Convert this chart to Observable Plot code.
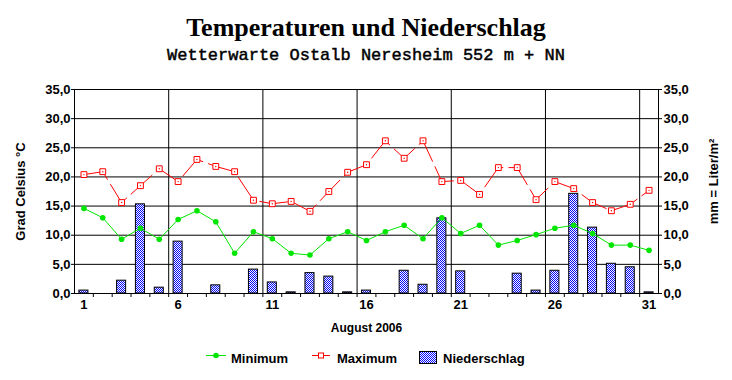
<!DOCTYPE html>
<html>
<head>
<meta charset="utf-8">
<script src="https://cdn.jsdelivr.net/npm/d3@7"></script>
<script src="https://cdn.jsdelivr.net/npm/@observablehq/plot@0.6"></script>
<style>
  body { margin: 0; background: #fff; }
  #wrap { position: relative; width: 732px; height: 380px; background: #fff; overflow: hidden; }
  #title { position: absolute; left: 0; top: 15px; width: 732px; text-align: center;
           font: bold 26px/26px "Liberation Serif", "Times New Roman", serif; color: #000; }
  #sub { position: absolute; left: 0; top: 47px; width: 732px; text-align: center;
         font: normal 17px/17px "Liberation Mono", "Courier New", monospace; color: #000;
         -webkit-text-stroke: 0.45px #000; }
  #chart { position: absolute; left: 0; top: 70px; }
  #legend { position: absolute; left: 0; top: 340px; }
</style>
</head>
<body>
<div id="wrap">
  <div id="title">Temperaturen und Niederschlag</div>
  <div id="sub">Wetterwarte Ostalb Neresheim 552 m + NN</div>
  <div id="chart"></div>
  <div id="legend"></div>
</div>
<script>
// ---- data ----
const days = [1,2,3,4,5,6,7,8,9,10,11,12,13,14,15,16,17,18,19,20,21,22,23,24,25,26,27,28,29,30,31];
const minT = [14.6,13.0,9.3,11.2,9.3,12.7,14.2,12.3,6.9,10.6,9.4,6.9,6.6,9.4,10.6,9.1,10.6,11.7,9.4,13.0,10.3,11.7,8.3,9.1,10.1,11.2,11.7,10.3,8.3,8.3,7.4];
const maxT = [20.4,20.9,15.6,18.5,21.4,19.2,23.0,21.8,20.9,16.0,15.4,15.8,14.1,17.5,20.8,22.1,26.2,23.2,26.2,19.2,19.4,17.0,21.6,21.6,16.1,19.2,18.0,15.6,14.2,15.3,17.7];
const rain = [0.5,0,2.2,15.3,1.0,8.9,0,1.4,0,4.1,1.9,0.2,3.5,2.9,0.2,0.5,0,3.9,1.5,12.9,3.8,0,0,3.4,0.5,3.9,17.1,11.3,5.1,4.5,0.2];
const yTicks = [0,5,10,15,20,25,30,35];
const xLabelDays = [1,6,11,16,21,26,31];
const gridDays = [6,11,16,21,26,31];
const boundaryDays = [2,3,4,5,6,7,8,9,10,11,12,13,14,15,16,17,18,19,20,21,22,23,24,25,26,27,28,29,30,31];
const leftTitle = ["Grad Celsius °C"];
const rightTitle = ["mm = Liter/m²"];
const xTitle = ["August 2006"];
const seriesNames = ["Minimum", "Maximum", "Niederschlag"];

const GREEN = "#00e600";
const RED = "#ff0000";

const data = days.map((d, i) => ({day: d, min: minT[i], max: maxT[i], rain: rain[i]}));

const W = 732, H = 270, mL = 74, mR = 74, mT = 19, mB = 47;
const half = (W - mL - mR) / days.length / 2;
const fmt = v => v.toFixed(1).replace(".", ",");

const chart = Plot.plot({
  width: W, height: H,
  marginLeft: mL, marginRight: mR, marginTop: mT, marginBottom: mB,
  style: {fontFamily: "'Liberation Sans', Arial, sans-serif", fontSize: "13px", fontWeight: "bold", color: "black", background: "white", overflow: "visible"},
  x: {type: "band", domain: days, paddingInner: 0.52, paddingOuter: 0.26, round: false},
  y: {domain: [0, 35]},
  marks: [
    Plot.ruleY(yTicks, {y: d => d, stroke: "black"}),
    Plot.ruleX(gridDays, {x: d => d, dx: -half, stroke: "black"}),
    Plot.ruleX(boundaryDays, {x: d => d, dx: -half, y1: 0, y2: 0, insetBottom: -4, stroke: "black"}),
    Plot.barY(data.filter(d => d.rain > 0), {x: "day", y: "rain", fill: "url(#dots)", stroke: "black", strokeWidth: 1}),
    Plot.line(data, {x: "day", y: "min", stroke: GREEN, strokeWidth: 1}),
    Plot.dot(data, {x: "day", y: "min", r: 2.8, fill: GREEN}),
    Plot.line(data, {x: "day", y: "max", stroke: RED, strokeWidth: 1, strokeDasharray: "28,6"}),
    Plot.dot(data, {x: "day", y: "max", symbol: "square", r: 3.3, stroke: RED, fill: "white", strokeWidth: 1}),
    Plot.dot(data, {x: "day", y: "max", r: 0.7, fill: RED}),
    Plot.frame({stroke: "black"}),
    Plot.axisY({anchor: "left", ticks: yTicks, tickSize: 3, tickPadding: 1, tickFormat: fmt, label: null}),
    Plot.axisY({anchor: "right", ticks: yTicks, tickSize: 3, tickPadding: 2, tickFormat: fmt, label: null}),
    Plot.axisX({anchor: "bottom", ticks: xLabelDays, tickSize: 0, tickPadding: 6, label: null}),
    Plot.text(leftTitle, {text: d => d, frameAnchor: "left", textAnchor: "middle", dx: -54, rotate: -90, fontSize: 13}),
    Plot.text(rightTitle, {text: d => d, frameAnchor: "right", textAnchor: "middle", dx: 55, dy: -10, rotate: -90, fontSize: 13}),
    Plot.text(xTitle, {text: d => d, frameAnchor: "bottom", dy: 38, fontSize: 12})
  ]
});

// dotted pattern for precipitation bars
const svgNS = "http://www.w3.org/2000/svg";
const defs = document.createElementNS(svgNS, "defs");
defs.innerHTML = '<pattern id="dots" width="2" height="2" patternUnits="userSpaceOnUse">' +
  '<rect width="2" height="2" fill="#ffffff"/>' +
  '<rect x="0" y="0" width="1" height="1" fill="#0000ff"/>' +
  '<rect x="1" y="1" width="1" height="1" fill="#0000ff"/></pattern>';
chart.insertBefore(defs, chart.firstChild);
document.getElementById("chart").appendChild(chart);

// legend
const lg = `<svg width="732" height="40" xmlns="${svgNS}" style="font-family:'Liberation Sans',Arial,sans-serif;font-size:13px;font-weight:bold">
  <line x1="206" x2="226" y1="15.5" y2="15.5" stroke="${GREEN}"/>
  <circle cx="216" cy="15.5" r="2.8" fill="${GREEN}"/>
  <text x="231" y="23">${seriesNames[0]}</text>
  <line x1="312" x2="330" y1="15.5" y2="15.5" stroke="${RED}"/>
  <rect x="318.5" y="13" width="5" height="5" fill="white" stroke="${RED}"/>
  <text x="337" y="23">${seriesNames[1]}</text>
  <rect x="419.5" y="11.5" width="17" height="12" fill="url(#dots)" stroke="black"/>
  <text x="443" y="23">${seriesNames[2]}</text>
</svg>`;
document.getElementById("legend").innerHTML = lg;
</script>
</body>
</html>
